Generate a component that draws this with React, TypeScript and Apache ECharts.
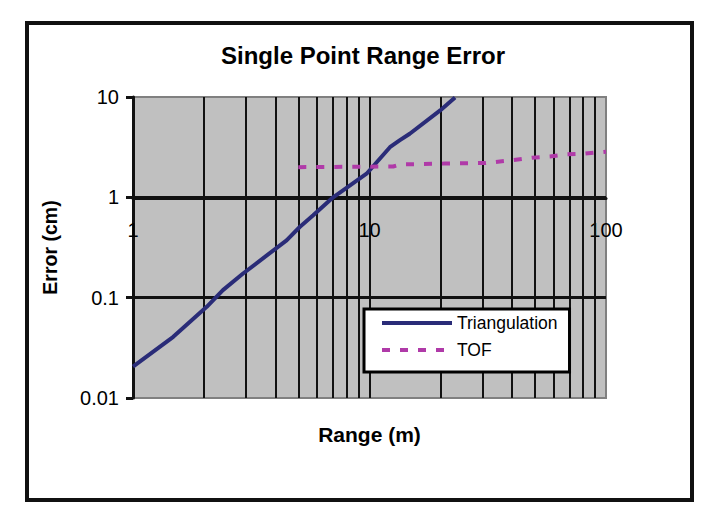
import React, { useEffect, useRef } from "react";
import * as echarts from "echarts";

const chartTitle = "Single Point Range Error";
const xAxisName = "Range (m)";
const yAxisName = "Error (cm)";

const triName = "Triangulation";
const triRange = [1, 1.48, 2.05, 2.4, 2.92, 4.46, 5.07, 5.78, 7.02, 9.72, 12.2, 13.4, 14.8, 19.9, 23.0];
const triError = [0.0205, 0.0407, 0.081, 0.119, 0.174, 0.373, 0.506, 0.662, 1.0, 1.72, 3.16, 3.69, 4.3, 7.35, 9.9];

const tofName = "TOF";
const tofRange = [5.0, 12.6, 13.5, 20.8, 31, 40.6, 48.6, 58, 68.2, 80.4, 100];
const tofError = [2.0, 2.03, 2.13, 2.17, 2.2, 2.35, 2.48, 2.55, 2.68, 2.72, 2.85];

const verticalGrid = [2, 3, 4, 5, 6, 7, 8, 9, 10, 20, 30, 40, 50, 60, 70, 80, 90];
const horizontalGrid = [0.1, 1];

const FONT = "'Liberation Sans', Arial, sans-serif";

export default function App() {
  const ref = useRef<HTMLDivElement>(null);

  useEffect(() => {
    if (!ref.current) return;
    const chart = echarts.init(ref.current, undefined, { renderer: "svg" });

    const triData = triRange.map((x, i) => [x, triError[i]]);
    const tofData = tofRange.map((x, i) => [x, tofError[i]]);

    chart.setOption({
      animation: false,
      backgroundColor: "#ffffff",
      textStyle: { fontFamily: FONT },
      title: {
        text: chartTitle,
        left: "center",
        top: 38,
        textStyle: { fontFamily: FONT, fontSize: 24, fontWeight: "bold", color: "#000" },
      },
      graphic: [
        {
          type: "rect",
          shape: { x: 27, y: 23, width: 665, height: 477 },
          style: { fill: "none", stroke: "#111", lineWidth: 4 },
          z: 100,
          silent: true,
        },
      ],
      legend: {
        data: [triName, tofName],
        orient: "vertical",
        left: 364,
        top: 309,
        z: 20,
        backgroundColor: "#ffffff",
        borderColor: "#000",
        borderWidth: 3,
        borderRadius: 0,
        padding: [5, 12, 13, 16],
        itemGap: 9,
        itemWidth: 70,
        itemHeight: 14,
        itemStyle: { opacity: 0 },
        lineStyle: { width: "inherit" },
        textStyle: { fontFamily: FONT, fontSize: 17.5, color: "#000" },
        selectedMode: false,
      },
      grid: {
        left: 133,
        right: 120,
        top: 97,
        bottom: 117,
        show: true,
        backgroundColor: "#c0c0c0",
        borderColor: "#808080",
        borderWidth: 2,
      },
      xAxis: {
        type: "log",
        logBase: 10,
        min: 1,
        max: 100,
        position: "bottom",
        offset: -200,
        name: xAxisName,
        nameLocation: "middle",
        nameGap: 226,
        nameTextStyle: { fontFamily: FONT, fontSize: 21, fontWeight: "bold", color: "#000" },
        axisLine: { show: true, lineStyle: { color: "#111", width: 3 } },
        axisTick: { show: false },
        axisLabel: { fontFamily: FONT, fontSize: 20, color: "#000", margin: 22 },
        splitLine: { show: false },
      },
      yAxis: {
        type: "log",
        logBase: 10,
        min: 0.01,
        max: 10,
        name: yAxisName,
        nameLocation: "middle",
        nameRotate: 90,
        nameGap: 73,
        nameTextStyle: { fontFamily: FONT, fontSize: 19.5, fontWeight: "bold", color: "#000" },
        axisLine: { show: true, lineStyle: { color: "#111", width: 3 } },
        axisTick: { show: true, inside: false, length: 7, lineStyle: { color: "#111", width: 3 } },
        axisLabel: { fontFamily: FONT, fontSize: 20, color: "#000", margin: 14 },
        splitLine: { show: false },
      },
      series: [
        {
          type: "line",
          data: [],
          z: 1,
          silent: true,
          markLine: {
            silent: true,
            z: 1,
            symbol: "none",
            label: { show: false },
            animation: false,
            data: [
              ...verticalGrid.map((v) => ({ xAxis: v, lineStyle: { color: "#111", width: 2, type: "solid" } })),
              ...horizontalGrid.map((v) => ({ yAxis: v, lineStyle: { color: "#111", width: 3, type: "solid" } })),
            ],
          },
        },
        {
          name: triName,
          type: "line",
          data: triData,
          z: 3,
          symbol: "none",
          showSymbol: false,
          clip: true,
          lineStyle: { color: "#2a2c78", width: 4 },
          itemStyle: { color: "#2a2c78" },
        },
        {
          name: tofName,
          type: "line",
          data: tofData,
          z: 3,
          symbol: "none",
          showSymbol: false,
          clip: true,
          lineStyle: { color: "#b03aa8", width: 4, type: [8, 10] },
          itemStyle: { color: "#b03aa8" },
        },
      ],
    });

    return () => chart.dispose();
  }, []);

  return (
    <div
      ref={ref}
      style={{ position: "fixed", left: 0, top: 0, width: 726, height: 515 }}
    />
  );
}
